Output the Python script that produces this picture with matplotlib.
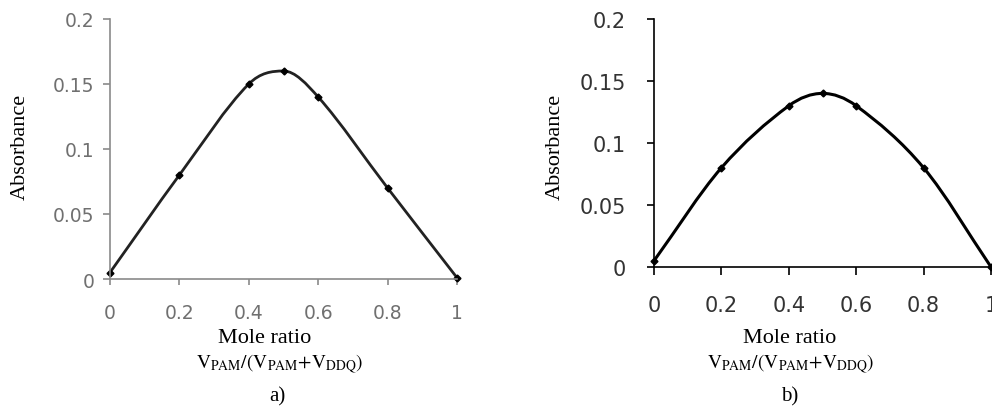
import numpy as np
import matplotlib.pyplot as plt
from matplotlib.path import Path
from matplotlib.patches import PathPatch

plt.rcParams['mathtext.fontset'] = 'stix'

ratio = [0, 0.2, 0.4, 0.5, 0.6, 0.8, 1.0]
absorb_a = [0.005, 0.08, 0.15, 0.16, 0.14, 0.07, 0.001]
absorb_b = [0.005, 0.08, 0.13, 0.14, 0.13, 0.08, 0.0]
x_ticks = [0, 0.2, 0.4, 0.6, 0.8, 1]
x_labels = ['0', '0.2', '0.4', '0.6', '0.8', '1']
y_ticks = [0, 0.05, 0.1, 0.15, 0.2]
y_labels = ['0', '0.05', '0.1', '0.15', '0.2']

W, H = 992, 410


def smooth_path(x, y):
    # smoothed line through the points: cubic hermite segments as beziers
    x = np.asarray(x, float)
    y = np.asarray(y, float)
    n = len(x)
    m = np.zeros(n)
    for i in range(n):
        a = max(i - 1, 0)
        b = min(i + 1, n - 1)
        m[i] = (y[b] - y[a]) / (x[b] - x[a])
        # flat tangent at a local peak
        if 0 < i < n - 1 and (y[i] - y[a]) * (y[b] - y[i]) < 0:
            m[i] = 0
    verts = [(x[0], y[0])]
    codes = [Path.MOVETO]
    for i in range(n - 1):
        h = x[i + 1] - x[i]
        verts += [(x[i] + h / 3, y[i] + m[i] * h / 3),
                  (x[i + 1] - h / 3, y[i + 1] - m[i + 1] * h / 3),
                  (x[i + 1], y[i + 1])]
        codes += [Path.CURVE4] * 3
    return Path(verts, codes)


def fx(px):
    return px / W


def fy(py):
    return 1 - py / H


def panel(rect, y, axcol, labcol, linecol, lw, tick_fs, ypad, xpad, xtick_len):
    ax = fig.add_axes(rect)
    ax.add_patch(PathPatch(smooth_path(ratio, y), fill=False, lw=lw, edgecolor=linecol))
    ax.plot(ratio, y, 'D', color='black', ms=3.5, clip_on=False)
    ax.set_xlim(0, 1)
    ax.set_ylim(0, 0.2)
    ax.set_xticks(x_ticks, x_labels)
    ax.set_yticks(y_ticks, y_labels)
    for s in ['top', 'right']:
        ax.spines[s].set_visible(False)
    for s in ['left', 'bottom']:
        ax.spines[s].set_color(axcol)
        ax.spines[s].set_linewidth(1.2)
    ax.tick_params(axis='y', direction='out', length=5, width=1.2, color=axcol,
                   labelsize=tick_fs, labelcolor=labcol, pad=ypad)
    ax.tick_params(axis='x', direction='out', length=xtick_len, width=1.2, color=axcol,
                   labelsize=tick_fs, labelcolor=labcol, pad=xpad)
    for lab in ax.get_xticklabels() + ax.get_yticklabels():
        lab.set_fontfamily('DejaVu Sans')
    return ax


fig = plt.figure(figsize=(W / 100, H / 100), dpi=100)

# panel a
panel([fx(110), fy(280), fx(457 - 110), (280 - 20) / H], absorb_a,
      '#8a8a8a', '#707070', '#222222', 2.0, 13.5, 6, 13, 4)
# panel b
panel([fx(654), fy(268), fx(991 - 654), (268 - 20) / H], absorb_b,
      'black', '#333333', 'black', 2.2, 15, 15, 14, 6)

serif = 'Liberation Serif'
for cx, cy in [(20, 147), (555, 147)]:
    fig.text(fx(cx), fy(cy), 'Absorbance', rotation=90, ha='center', va='center',
             fontsize=16, family=serif)

# x titles: (mole ratio x, formula x, panel letter x, letter)
for mx, vx, lx, lab in [(265, 280, 277, 'a)'), (790, 791, 790, 'b)')]:
    fig.text(fx(mx), fy(339), 'Mole ratio', ha='center', va='center',
             fontsize=16, family=serif)
    fig.text(fx(vx), fy(364),
             r'$\mathrm{V_{PAM}/(V_{PAM}{+}V_{DDQ})}$', ha='center', va='center',
             fontsize=14)
    fig.text(fx(lx), fy(397), lab, ha='center', va='center',
             fontsize=15, family=serif)

fig.savefig('out.png', dpi=100)
